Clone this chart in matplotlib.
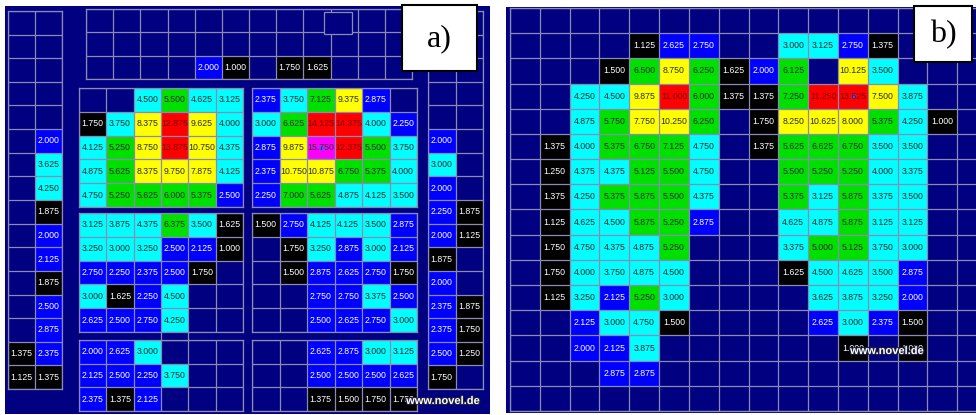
import numpy as np
import matplotlib.pyplot as plt
import matplotlib.patheffects as pe
from matplotlib.colors import ListedColormap, BoundaryNorm
from matplotlib.patches import Rectangle

nan = np.nan

# ---- panel a) : seat pressure map, split into blocks ----
a_top = [
    [nan] * 12,
    [nan] * 12,
    [nan, nan, nan, nan, 2.000, 1.000, nan, 1.750, 1.625, nan, nan, nan],
]
a_side_left = [
    [nan, nan], [nan, nan], [nan, nan], [nan, nan], [nan, nan],
    [nan, 2.000], [nan, 3.625], [nan, 4.250], [nan, 1.875], [nan, 2.000],
    [nan, 2.125], [nan, 1.875], [nan, 2.500], [nan, 2.875],
    [1.375, 2.375], [1.125, 1.375],
]
a_side_right = [
    [nan, nan], [nan, nan], [nan, nan], [nan, nan], [nan, nan],
    [2.000, nan], [3.000, nan], [2.000, nan], [2.250, 1.875], [2.000, 1.125],
    [1.875, nan], [2.000, nan], [2.375, 1.875], [2.375, 1.750],
    [2.500, 1.250], [1.750, nan],
]
a_upper_left = [
    [nan, nan, 4.500, 5.500, 4.625, 3.125],
    [1.750, 3.750, 8.375, 12.875, 9.625, 4.000],
    [4.125, 5.250, 8.750, 13.875, 10.750, 4.375],
    [4.875, 5.625, 8.375, 9.750, 7.875, 4.125],
    [4.750, 5.250, 5.625, 6.000, 5.375, 2.500],
]
a_upper_right = [
    [2.375, 3.750, 7.125, 9.375, 2.875, nan],
    [3.000, 6.625, 14.125, 14.375, 4.000, 2.250],
    [2.875, 9.875, 15.750, 12.375, 5.500, 3.750],
    [2.375, 10.750, 10.875, 6.750, 5.375, 4.000],
    [2.250, 7.000, 5.625, 4.875, 4.125, 3.500],
]
a_mid_left = [
    [3.125, 3.875, 4.375, 6.375, 3.500, 1.625],
    [3.250, 3.000, 3.250, 2.500, 2.125, 1.000],
    [2.750, 2.250, 2.375, 2.500, 1.750, nan],
    [3.000, 1.625, 2.250, 4.500, nan, nan],
    [2.625, 2.500, 2.750, 4.250, nan, nan],
]
a_mid_right = [
    [1.500, 2.750, 4.125, 4.125, 3.500, 2.875],
    [nan, 1.750, 3.250, 2.875, 3.000, 2.125],
    [nan, 1.500, 2.875, 2.625, 2.750, 1.750],
    [nan, nan, 2.750, 2.750, 3.375, 2.500],
    [nan, nan, 2.500, 2.625, 2.750, 3.000],
]
a_low_left = [
    [2.000, 2.625, 3.000, nan, nan, nan],
    [2.125, 2.500, 2.250, 3.750, nan, nan],
    [2.375, 1.375, 2.125, nan, nan, nan],
]
a_low_right = [
    [nan, nan, 2.625, 2.875, 3.000, 3.125],
    [nan, nan, 2.500, 2.500, 2.500, 2.625],
    [nan, nan, 1.375, 1.500, 1.750, 1.750],
]

# ---- panel b) : one 16 x 16 grid ----
b_grid = [[nan] * 16 for _ in range(16)]
b_cells = {
    1: {4: 1.125, 5: 2.625, 6: 2.750, 9: 3.000, 10: 3.125, 11: 2.750, 12: 1.375},
    2: {3: 1.500, 4: 6.500, 5: 8.750, 6: 6.250, 7: 1.625, 8: 2.000, 9: 6.125,
        11: 10.125, 12: 3.500},
    3: {2: 4.250, 3: 4.500, 4: 9.875, 5: 11.000, 6: 6.000, 7: 1.375, 8: 1.375,
        9: 7.250, 10: 11.250, 11: 13.625, 12: 7.500, 13: 3.875},
    4: {2: 4.875, 3: 5.750, 4: 7.750, 5: 10.250, 6: 6.250, 8: 1.750, 9: 8.250,
        10: 10.625, 11: 8.000, 12: 5.375, 13: 4.250, 14: 1.000},
    5: {1: 1.375, 2: 4.000, 3: 5.375, 4: 6.750, 5: 7.125, 6: 4.750, 8: 1.375,
        9: 5.625, 10: 6.625, 11: 6.750, 12: 3.500, 13: 3.500},
    6: {1: 1.250, 2: 4.375, 3: 4.375, 4: 5.125, 5: 5.500, 6: 4.750,
        9: 5.500, 10: 5.250, 11: 5.250, 12: 4.000, 13: 3.375},
    7: {1: 1.375, 2: 4.250, 3: 5.375, 4: 5.875, 5: 5.500, 6: 4.375,
        9: 5.375, 10: 3.125, 11: 5.875, 12: 3.375, 13: 3.500},
    8: {1: 1.125, 2: 4.625, 3: 4.500, 4: 5.875, 5: 5.250, 6: 2.875,
        9: 4.625, 10: 4.875, 11: 5.875, 12: 3.125, 13: 3.125},
    9: {1: 1.750, 2: 4.750, 3: 4.375, 4: 4.875, 5: 5.250,
        9: 3.375, 10: 5.000, 11: 5.125, 12: 3.750, 13: 3.000},
    10: {1: 1.750, 2: 4.000, 3: 3.750, 4: 4.875, 5: 4.500,
         9: 1.625, 10: 4.500, 11: 4.625, 12: 3.500, 13: 2.875},
    11: {1: 1.125, 2: 3.250, 3: 2.125, 4: 5.250, 5: 3.000,
         10: 3.625, 11: 3.875, 12: 3.250, 13: 2.000},
    12: {2: 2.125, 3: 3.000, 4: 4.750, 5: 1.500,
         10: 2.625, 11: 3.000, 12: 2.375, 13: 1.500},
    13: {2: 2.000, 3: 2.125, 4: 3.875, 11: 1.000, 13: 1.000},
    14: {3: 2.875, 4: 2.875},
}
for r, row in b_cells.items():
    for c, v in row.items():
        b_grid[r][c] = v

# pressure classes
level_bounds = [0, 2.0, 3.0, 5.0, 7.5, 11.0, 15.0, 20.0]
level_colors = ['#000000', '#0000ff', '#00ffff', '#00e000', '#ffff00', '#ff0000', '#ff00ff']
cmap = ListedColormap(level_colors)
norm = BoundaryNorm(level_bounds, cmap.N)

W, H = 976, 415
NAVY = '#000080'
GRID = '#8a8ab4'

fig = plt.figure(figsize=(W / 100, H / 100), dpi=100, facecolor='white')


def fig_rect(x0, y0, x1, y1):
    return (x0 / W, 1 - y1 / H), (x1 - x0) / W, (y1 - y0) / H


def backdrop(x0, y0, x1, y1, face=NAVY, edge='none', lw=0, z=0):
    xy, w, h = fig_rect(x0, y0, x1, y1)
    fig.add_artist(Rectangle(xy, w, h, transform=fig.transFigure, facecolor=face,
                             edgecolor=edge, linewidth=lw, zorder=z))


def block(vals, x0, y0, x1, y1, marker=False):
    vals = np.array(vals, dtype=float)
    nr, nc = vals.shape
    xy, w, h = fig_rect(x0, y0, x1, y1)
    ax = fig.add_axes([xy[0], xy[1], w, h])
    ax.set_facecolor(NAVY)
    ax.pcolormesh(np.ma.masked_invalid(vals), cmap=cmap, norm=norm)
    ax.set_xlim(0, nc)
    ax.set_ylim(nr, 0)
    ax.set_xticks(np.arange(nc + 1))
    ax.set_yticks(np.arange(nr + 1))
    ax.tick_params(length=0, labelbottom=False, labelleft=False)
    ax.grid(True, color=GRID, lw=0.9)
    ax.set_axisbelow(False)
    for s in ax.spines.values():
        s.set_color(GRID)
        s.set_linewidth(0.9)
    for (i, j), v in np.ndenumerate(vals):
        if np.isnan(v):
            continue
        if v < 3.0:
            tc = 'white'
        elif 11.0 <= v < 15.0:
            tc = '#7a0000'
        else:
            tc = '#2a2a2a'
        ax.text(j + 0.5, i + 0.5, f"{v:.3f}", ha='center', va='center',
                fontsize=6.3, family='Liberation Sans', color=tc)
    if marker:
        i, j = np.unravel_index(np.nanargmax(vals), vals.shape)
        ax.plot(j + 0.5, i + 0.5, 's', color='#3a5cff', ms=3, mec='none')
    return ax


# panel a)
backdrop(5, 6, 490, 414)
block(a_top, 86, 9, 412, 79)
backdrop(324, 12, 352, 34, face=NAVY, edge=GRID, lw=0.9, z=5)
block(a_side_left, 8, 11, 62, 389)
block(a_side_right, 428, 11, 483, 389)
block(a_upper_left, 79, 88, 243, 207)
block(a_upper_right, 252, 88, 417, 207, marker=True)
block(a_mid_left, 79, 213, 243, 332)
block(a_mid_right, 252, 213, 417, 332)
backdrop(161, 332, 188, 340, face=NAVY, edge=GRID, lw=0.9, z=5)
block(a_low_left, 79, 340, 243, 411)
block(a_low_right, 252, 340, 417, 411)

# panel b)
backdrop(506, 7, 976, 413)
block(b_grid, 510, 8, 987, 411, marker=True)

# panel labels
backdrop(402, 5, 477, 71, face='white', edge='black', lw=1.5, z=10)
fig.text(439.5 / W, 1 - 39 / H, 'a)', ha='center', va='center', fontsize=23,
         family='Liberation Serif', zorder=11)
backdrop(914, 6, 972, 62, face='white', edge='black', lw=1.5, z=10)
fig.text(943 / W, 1 - 35 / H, 'b)', ha='center', va='center', fontsize=23,
         family='Liberation Serif', zorder=11)

# watermarks
for x, y in [(443, 401), (887, 351)]:
    fig.text(x / W, 1 - y / H, 'www.novel.de', ha='center', va='center', fontsize=8,
             fontweight='bold', family='Liberation Sans', color='white', zorder=12,
             path_effects=[pe.withStroke(linewidth=1.5, foreground='#202040')])

fig.savefig('out.png', dpi=100)
